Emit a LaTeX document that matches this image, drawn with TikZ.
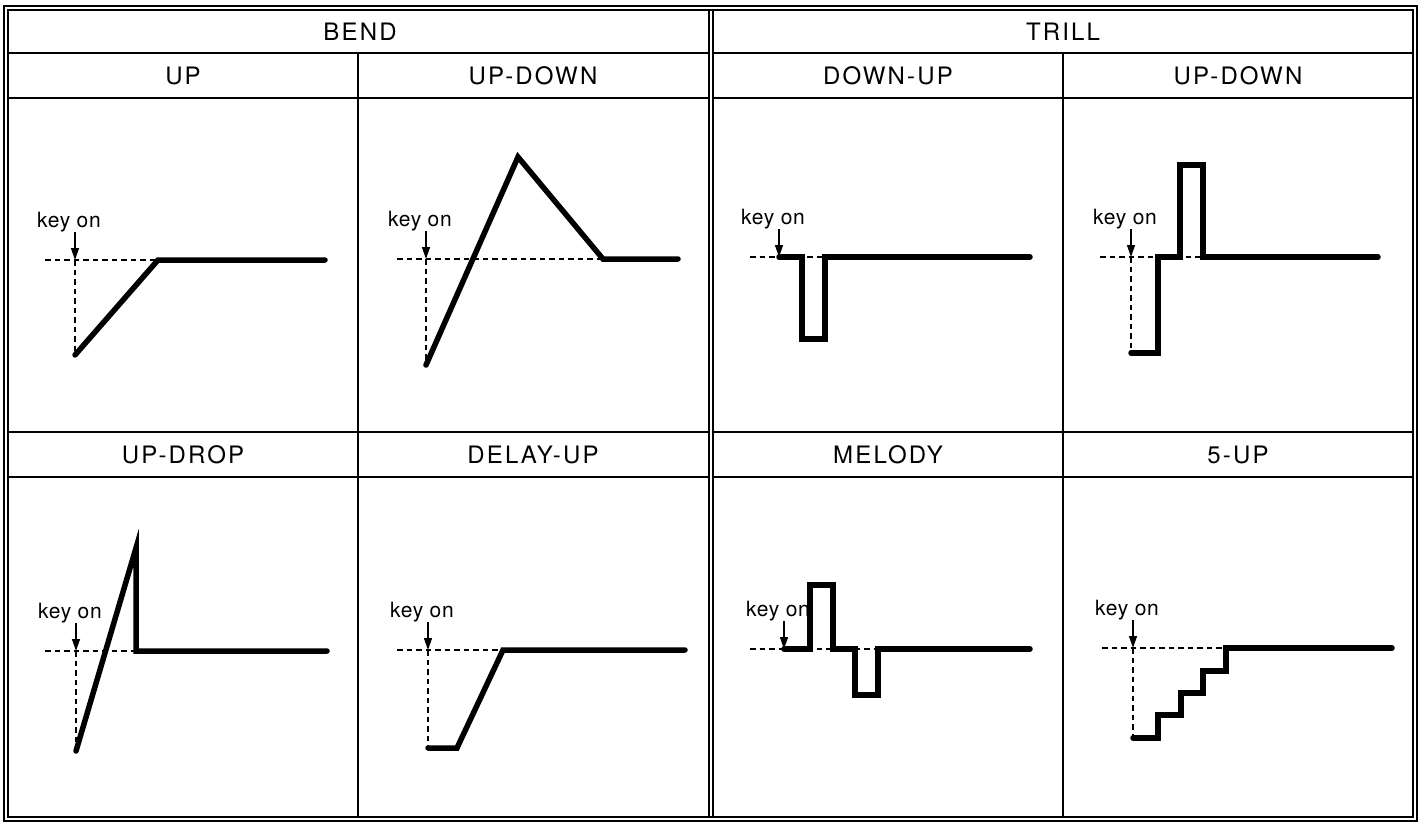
\documentclass[tikz,border=0pt]{standalone}
\usepackage{fontspec}
\setmainfont{TeX Gyre Heros}
\newfontfamily\capsfont{TeX Gyre Heros}[LetterSpace=9]
\newfontfamily\keyfont{TeX Gyre Heros}[LetterSpace=3]
\usetikzlibrary{calc,arrows.meta}
\tikzset{
  rule/.style={line width=1.4pt},
  guide/.style={line width=1.2pt,dash pattern=on 5.5pt off 4pt},
  curve/.style={line width=5.5pt,line cap=round,line join=miter},
  ttl/.style={font=\capsfont\fontsize{24}{24}\selectfont,inner sep=0pt},
  sub/.style={font=\capsfont\fontsize{24}{24}\selectfont,inner sep=0pt},
  keylbl/.style={font=\keyfont\fontsize{21}{21}\selectfont,inner sep=0pt,anchor=base west},
  keyar/.style={-{Triangle[length=12pt,width=8pt]},line width=1.4pt}
}
\begin{document}
\begin{tikzpicture}[x=1pt,y=-1pt]
\useasboundingbox (0,0) rectangle (1422,822);
% table frame
\draw[rule] (4,6) rectangle (1417,821);
\draw[rule] (8,10) rectangle (1413,817);
\draw[rule] (709,10) -- (709,817) (713,10) -- (713,817);
\foreach \yy in {53,98,432,477}{\draw[rule] (8,\yy) -- (709,\yy) (713,\yy) -- (1413,\yy);}
\draw[rule] (358,53) -- (358,817) (1063,53) -- (1063,817);
% headings
\node[ttl] (bend) at (360,32) {BEND};
\node[ttl] (trill) at (1063,32) {TRILL};
\foreach \cx/\cy/\txt [count=\i] in {183/76/UP,533/76/UP-DOWN,888/76/DOWN-UP,1238/76/UP-DOWN,
  183/455/UP-DROP,533/455/DELAY-UP,888/455/MELODY,1238/455/5-UP}
  {\node[sub] (sub\i) at (\cx,\cy) {\txt};}
% key on markers
\foreach \kx/\ky [count=\i] in {75/260,426/259,779/257,1131/257,76/651,428/650,784/649,1133/648}{
  \coordinate (k\i) at (\kx,\ky);
  \node[keylbl] (kon\i) at ($(k\i)+(-38,-33)$) {key on};
  \draw[keyar] (kon\i.south -| k\i) -- (k\i);
}
% BEND: UP
\draw[guide] (45,260) -- (158,260) (k1) -- (75,355);
\draw[curve] (75,355) -- (158,260) -- (325,260);
% BEND: UP-DOWN
\draw[guide] (397,259) -- (603,259) (k2) -- (426,365);
\draw[curve] (426,365) -- (518,157) -- (603,259) -- (678,259);
% TRILL: DOWN-UP
\draw[guide] (750,257) -- (825,257);
\draw[curve] (k3) -- (802,257) -- (802,339) -- (825,339) -- (825,257) -- (1030,257);
% TRILL: UP-DOWN
\draw[guide] (1100,257) -- (1203,257) (k4) -- (1131,353);
\draw[curve] (1131,353) -- (1158,353) -- (1158,257) -- (1180,257) -- (1180,165)
  -- (1203,165) -- (1203,257) -- (1378,257);
% BEND: UP-DROP
\draw[guide] (45,651) -- (136,651) (k5) -- (76,751);
\draw[curve] (76,751) -- (136,548) -- (136,651) -- (327,651);
% BEND: DELAY-UP
\draw[guide] (397,650) -- (503,650) (k6) -- (428,748);
\draw[curve] (428,748) -- (457,748) -- (503,650) -- (685,650);
% TRILL: MELODY
\draw[guide] (750,649) -- (878,649);
\draw[curve] (k7) -- (810,649) -- (810,585) -- (833,585) -- (833,649) -- (855,649)
  -- (855,695) -- (878,695) -- (878,649) -- (1030,649);
% TRILL: 5-UP
\draw[guide] (1102,648) -- (1226,648) (k8) -- (1133,738);
\draw[curve] (1133,738) -- (1158,738) -- (1158,715) -- (1181,715) -- (1181,693)
  -- (1203,693) -- (1203,671) -- (1226,671) -- (1226,648) -- (1392,648);
\end{tikzpicture}
\end{document}
